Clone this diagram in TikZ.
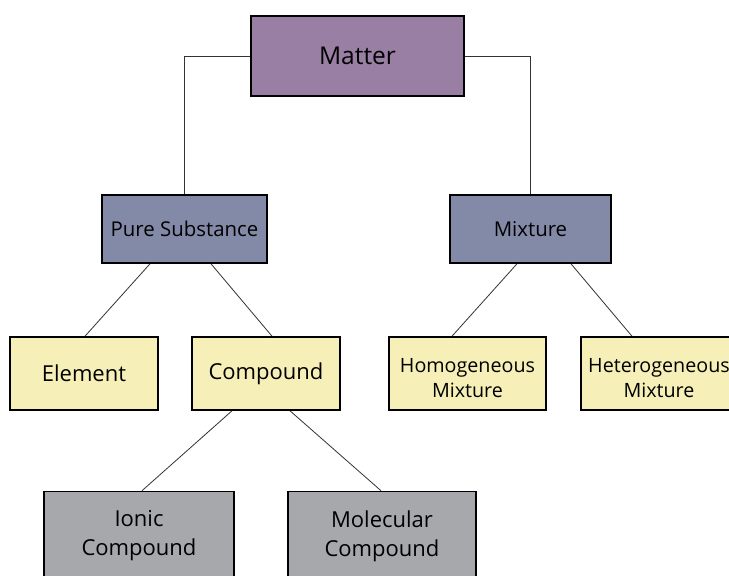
\documentclass[tikz,border=0pt]{standalone}
\usepackage{fontspec}
\setmainfont{Open Sans}
\definecolor{matterc}{HTML}{9A7FA5}
\definecolor{substc}{HTML}{838AA7}
\definecolor{leafc}{HTML}{F6F0B8}
\definecolor{greyc}{HTML}{A7A8AB}
\newcommand{\topgap}{\rule{0pt}{23pt}}
\tikzset{
  box/.style={draw=black, line width=1.6pt, align=center, inner sep=0pt},
  link/.style={draw=black!80, line width=0.8pt}
}

\begin{document}
\begin{tikzpicture}[x=1pt,y=-1pt]
\clip (0,0) rectangle (729,576);
\fill[white] (0,0) rectangle (729,576);
% top
\node[box, fill=matterc, minimum width=213pt, minimum height=80pt, font=\fontsize{24.5}{28}\selectfont] (matter) at (357.5,56) {Matter};
% second row
\node[box, fill=substc, minimum width=165pt, minimum height=68pt, font=\fontsize{20.4}{23}\selectfont] (pure) at (184.5,229) {Pure Substance};
\node[box, fill=substc, minimum width=161pt, minimum height=68pt, font=\fontsize{20.4}{23}\selectfont] (mix) at (530.5,229) {Mixture};
% third row
\node[box, fill=leafc, minimum width=148pt, minimum height=73pt, font=\fontsize{22}{25}\selectfont] (elem) at (84,373.5) {Element};
\node[box, fill=leafc, minimum width=148pt, minimum height=73pt, font=\fontsize{22}{25}\selectfont] (comp) at (266,373.5) {Compound};
\node[box, fill=leafc, minimum width=157pt, minimum height=73pt, font=\fontsize{19.7}{25}\selectfont] (homo) at (467.5,373.5) {\topgap Homogeneous\\Mixture};
\node[box, fill=leafc, minimum width=156pt, minimum height=73pt, font=\fontsize{19.7}{25}\selectfont] (hetero) at (659,373.5) {\topgap Heterogeneous\\Mixture};
% bottom
\node[box, fill=greyc, minimum width=190pt, minimum height=89pt, font=\fontsize{22}{29}\selectfont] (ionic) at (139,536) {Ionic\\Compound};
\node[box, fill=greyc, minimum width=188pt, minimum height=89pt, font=\fontsize{22}{29}\selectfont] (molec) at (382,536) {Molecular\\Compound};

\path[link] (matter.west) -| (pure.north);
\path[link] (matter.east) -| (mix.north);
\path[link] ([xshift=-34.5pt]pure.south) -- ([xshift=1pt]elem.north);
\path[link] ([xshift=26.5pt]pure.south) -- ([xshift=6pt]comp.north);
\path[link] ([xshift=-13.5pt]mix.south) -- ([xshift=-15.5pt]homo.north);
\path[link] ([xshift=40.5pt]mix.south) -- ([xshift=-27pt]hetero.north);
\path[link] ([xshift=-34pt]comp.south) -- ([xshift=3pt]ionic.north);
\path[link] ([xshift=24pt]comp.south) -- ([xshift=-1pt]molec.north);
\end{tikzpicture}
\end{document}
